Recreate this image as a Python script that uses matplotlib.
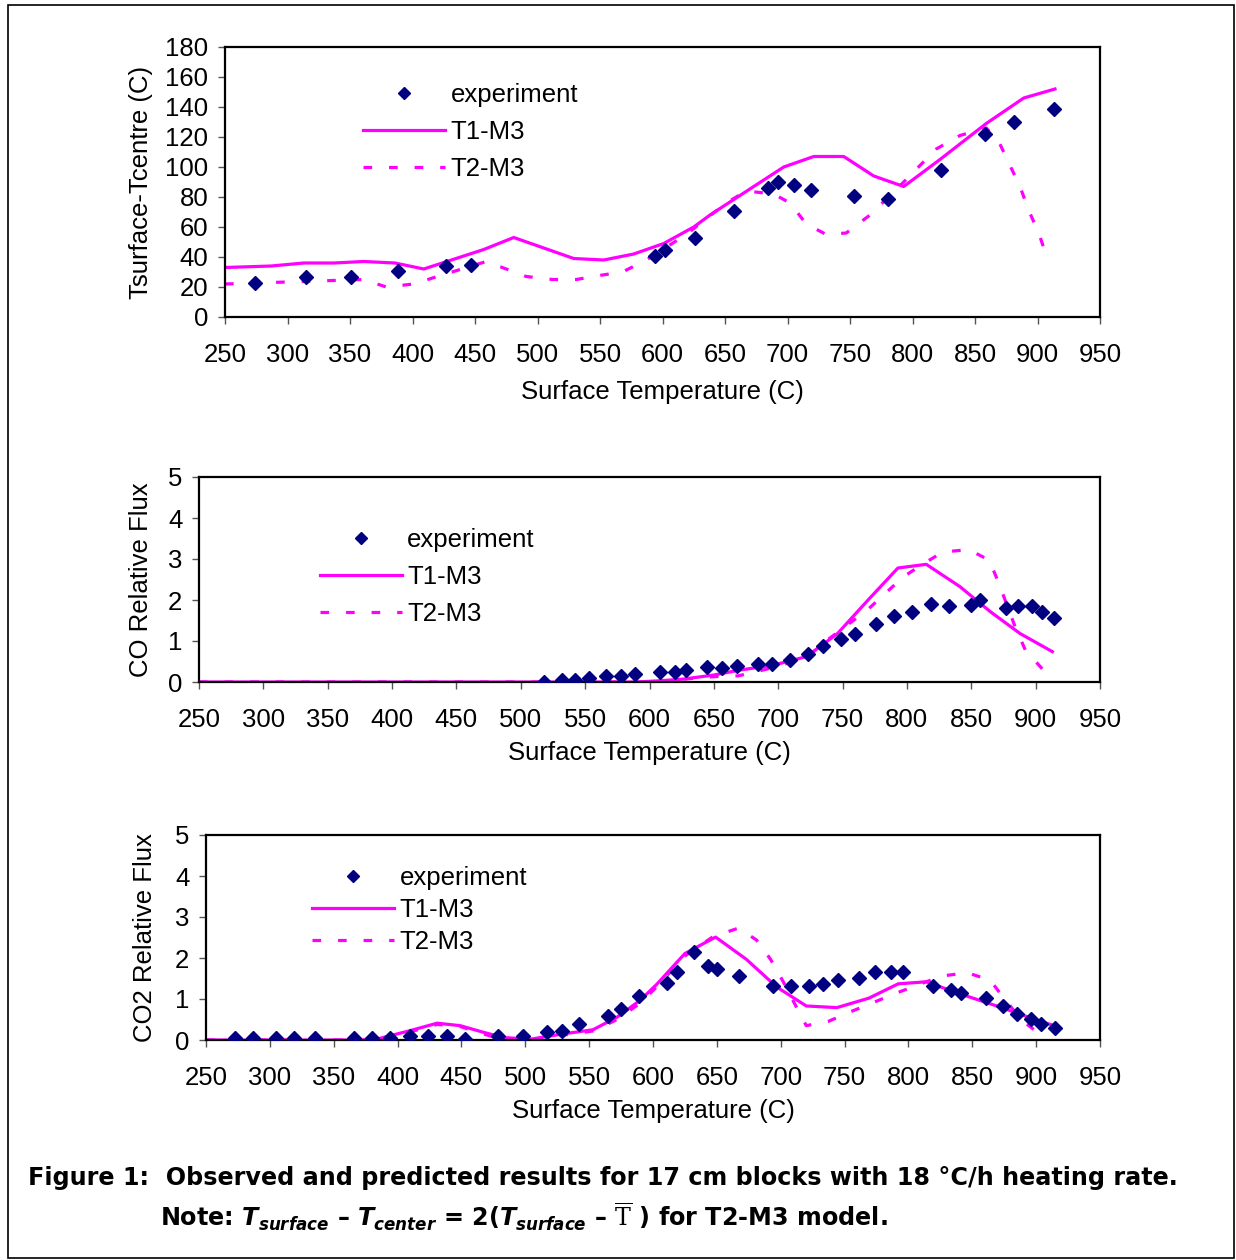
import matplotlib
matplotlib.use("Agg")
import matplotlib.pyplot as plt
from matplotlib.patches import Rectangle

# --- data ---
# top panel: Tsurface - Tcentre
temp_exp_x = [274, 315, 351, 388, 427, 447, 594, 602, 626, 657, 684, 692, 705, 719, 753, 780, 823, 858, 881, 913]
temp_exp_y = [23, 27, 27, 31, 34, 35, 41, 45, 53, 71, 86, 90, 88, 85, 81, 79, 98, 122, 130, 139]
temp_t1_x = [250, 287, 313, 337, 361, 386, 409, 457, 481, 529, 553, 577, 601, 625, 638, 673, 697, 721, 745, 769, 793, 822, 859, 889, 914]
temp_t1_y = [33, 34, 36, 36, 37, 36, 32, 45, 53, 39, 38, 42, 49, 60, 68, 87, 100, 107, 107, 94, 87, 105, 129, 146, 152]
temp_t2_x = [250, 361, 379, 401, 416, 459, 491, 512, 531, 552, 568, 587, 619, 651, 667, 689, 702, 715, 731, 747, 766, 793, 819, 838, 859, 869, 878, 886, 893, 901, 907]
temp_t2_y = [22, 25, 20, 22, 26, 37, 27, 25, 25, 28, 30, 38, 55, 76, 84, 82, 76, 62, 55, 56, 68, 90, 112, 121, 126, 117, 101, 87, 71, 56, 41]

# middle panel: CO relative flux
co_exp_x = [518, 532, 542, 553, 566, 578, 589, 608, 620, 628, 645, 656, 668, 684, 695, 709, 723, 735, 749, 760, 776, 790, 804, 819, 833, 850, 857, 877, 886, 897, 905, 914]
co_exp_y = [0.0, 0.05, 0.05, 0.09, 0.14, 0.14, 0.2, 0.25, 0.25, 0.29, 0.36, 0.33, 0.39, 0.45, 0.45, 0.53, 0.68, 0.88, 1.06, 1.16, 1.41, 1.61, 1.70, 1.90, 1.85, 1.89, 1.99, 1.81, 1.85, 1.85, 1.70, 1.55]
co_t1_x = [250, 590, 608, 626, 650, 670, 696, 722, 746, 771, 793, 815, 841, 865, 888, 913]
co_t1_y = [0, 0, 0.03, 0.07, 0.17, 0.29, 0.41, 0.62, 1.18, 2.04, 2.78, 2.87, 2.33, 1.71, 1.18, 0.74]
co_t2_x = [250, 600, 650, 669, 696, 722, 738, 769, 797, 813, 828, 848, 864, 871, 884, 892, 906]
co_t2_y = [0, 0, 0.13, 0.15, 0.35, 0.6, 1.02, 1.75, 2.56, 2.89, 3.17, 3.23, 2.97, 2.44, 1.35, 0.78, 0.29]

# bottom panel: CO2 relative flux
co2_exp_x = [273, 287, 305, 319, 335, 366, 380, 394, 410, 424, 439, 453, 479, 498, 517, 529, 542, 565, 575, 589, 611, 619, 632, 643, 650, 667, 694, 708, 722, 733, 745, 761, 774, 786, 796, 819, 833, 841, 861, 874, 885, 896, 904, 915]
co2_exp_y = [0.04, 0.04, 0.04, 0.04, 0.04, 0.04, 0.04, 0.04, 0.09, 0.09, 0.09, 0.03, 0.09, 0.09, 0.2, 0.23, 0.39, 0.58, 0.76, 1.07, 1.40, 1.66, 2.14, 1.81, 1.72, 1.56, 1.31, 1.31, 1.31, 1.36, 1.46, 1.51, 1.66, 1.66, 1.66, 1.31, 1.21, 1.15, 1.02, 0.83, 0.64, 0.52, 0.39, 0.29]
co2_t1_x = [250, 381, 410, 431, 449, 467, 483, 504, 530, 553, 572, 590, 603, 625, 649, 673, 697, 720, 744, 769, 792, 814, 840, 872, 890, 912]
co2_t1_y = [0, 0, 0.23, 0.41, 0.35, 0.19, 0.06, 0.02, 0.15, 0.25, 0.56, 0.97, 1.36, 2.11, 2.51, 1.97, 1.29, 0.83, 0.79, 1.02, 1.37, 1.42, 1.13, 0.80, 0.60, 0.37]
co2_t2_x = [250, 381, 410, 431, 449, 467, 483, 504, 530, 553, 572, 590, 603, 625, 647, 667, 681, 692, 702, 711, 720, 737, 754, 773, 791, 808, 826, 846, 864, 874, 889, 904]
co2_t2_y = [0, 0, 0.2, 0.38, 0.33, 0.15, 0.0, 0.0, 0.12, 0.22, 0.5, 0.9, 1.3, 2.05, 2.52, 2.73, 2.44, 1.97, 1.42, 0.88, 0.35, 0.45, 0.68, 0.92, 1.15, 1.35, 1.56, 1.64, 1.46, 1.05, 0.47, 0.12]

x_ticks = list(range(250, 1000, 50))

plt.rcParams['font.family'] = ['Liberation Sans', 'DejaVu Sans']
plt.rcParams['mathtext.fontset'] = 'custom'
plt.rcParams['mathtext.it'] = 'DejaVu Sans:italic:bold'
plt.rcParams['mathtext.rm'] = 'DejaVu Sans:bold'
plt.rcParams['mathtext.bf'] = 'DejaVu Sans:bold'
plt.rcParams['mathtext.cal'] = 'DejaVu Serif'

W, H = 1236, 1260
fig = plt.figure(figsize=(W / 100, H / 100), dpi=100)
FS = 18.5
MAG = '#FF00FF'
NAVY = '#000080'


def panel(rect, ex, ey, t1x, t1y, t2x, t2y, ymax, ystep, ylabel,
          ylab_x, xlab_y, leg_anchor, leg_space):
    ax = fig.add_axes(rect)
    ax.plot(t1x, t1y, color=MAG, lw=2.3, label='T1-M3', zorder=2)
    ax.plot(t2x, t2y, color=MAG, lw=2.3, dashes=(2.7, 5.3), label='T2-M3', zorder=2)
    ax.plot(ex, ey, 'D', color=NAVY, ms=7.5, ls='none', label='experiment', zorder=3)
    ax.set_xlim(250, 950)
    ax.set_ylim(0, ymax)
    ax.set_xticks(x_ticks)
    ax.set_yticks([ystep * i for i in range(int(round(ymax / ystep)) + 1)])
    ax.tick_params(axis='x', direction='out', length=5, width=1, color='#555555',
                   labelsize=FS, pad=14)
    ax.tick_params(axis='y', direction='out', length=5, width=1, color='#555555',
                   labelsize=FS, pad=7)
    for s in ax.spines.values():
        s.set_linewidth(1.6)
        s.set_color('black')
    ax.set_xlabel('Surface Temperature (C)', fontsize=FS)
    ax.set_ylabel(ylabel, fontsize=FS)
    ax.xaxis.set_label_coords(0.5, xlab_y)
    ax.yaxis.set_label_coords(ylab_x, 0.5)
    h, l = ax.get_legend_handles_labels()
    order = [2, 0, 1]
    ax.legend([h[i] for i in order], [l[i] for i in order], loc='upper left',
              bbox_to_anchor=leg_anchor, frameon=False, fontsize=FS,
              handlelength=3.2, handletextpad=0.2, labelspacing=leg_space,
              borderpad=0, borderaxespad=0, markerscale=0.8)
    return ax


panel([225 / W, 1 - 317 / H, 875 / W, 270 / H], temp_exp_x, temp_exp_y,
      temp_t1_x, temp_t1_y, temp_t2_x, temp_t2_y, 180, 20,
      'Tsurface-Tcentre (C)', -0.082, -0.233, (0.158, 0.865), 0.5)
panel([199 / W, 1 - 682 / H, 901 / W, 205 / H], co_exp_x, co_exp_y,
      co_t1_x, co_t1_y, co_t2_x, co_t2_y, 5, 1,
      'CO Relative Flux', -0.051, -0.29, (0.134, 0.75), 0.5)
panel([206 / W, 1 - 1040 / H, 894 / W, 205 / H], co2_exp_x, co2_exp_y,
      co2_t1_x, co2_t1_y, co2_t2_x, co2_t2_y, 5, 1,
      'CO2 Relative Flux', -0.055, -0.29, (0.1186, 0.848), 0.3)

fig.patches.append(Rectangle((8 / W, 2 / H), 1226 / W, 1253 / H, transform=fig.transFigure,
                             fill=False, lw=1.2, edgecolor='black'))

fig.text(28 / W, 1 - 1178 / H,
         'Figure 1:  Observed and predicted results for 17 cm blocks with 18 \u00b0C/h heating rate.',
         fontsize=17.2, fontweight='bold', family='DejaVu Sans', va='center', ha='left')
fig.text(160 / W, 1 - 1217 / H,
         'Note: $T_{surface}$ \u2013 $T_{center}$ = 2($T_{surface}$ \u2013 $\\overline{\\mathcal{T}}$ ) for T2-M3 model.',
         fontsize=17.2, fontweight='bold', family='DejaVu Sans', va='center', ha='left')

fig.savefig('out.png', dpi=100)
